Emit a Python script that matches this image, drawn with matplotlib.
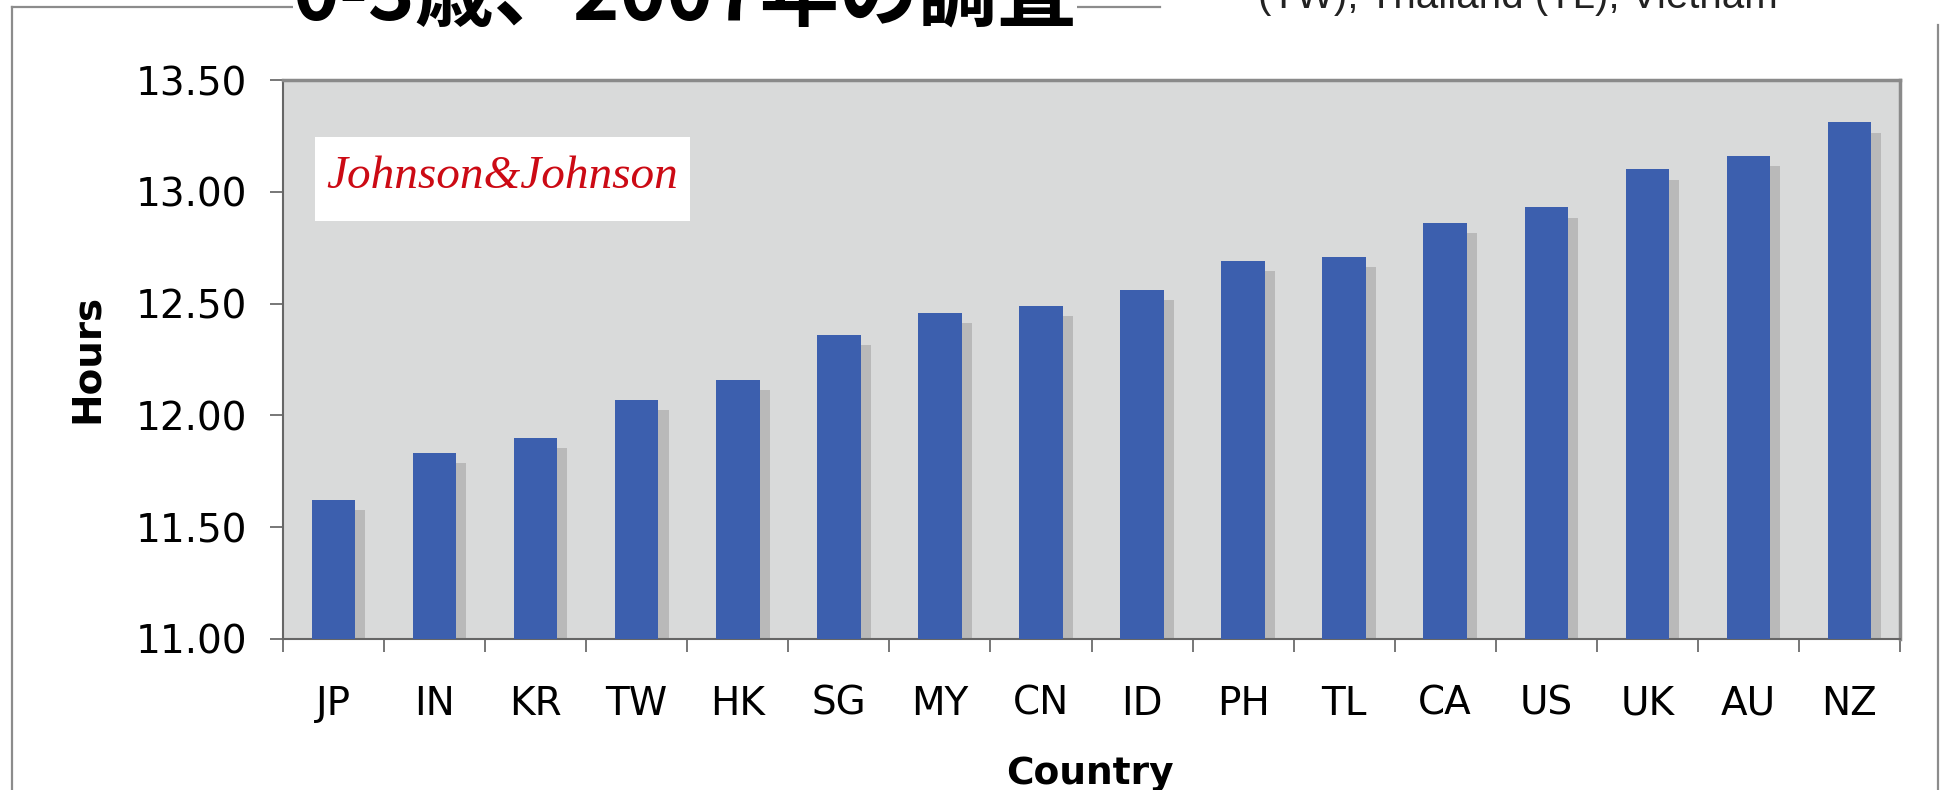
import numpy as np
import matplotlib.pyplot as plt
from matplotlib.patches import Rectangle
from matplotlib.lines import Line2D

countries = ["JP", "IN", "KR", "TW", "HK", "SG", "MY", "CN",
             "ID", "PH", "TL", "CA", "US", "UK", "AU", "NZ"]
hours = [11.62, 11.83, 11.90, 12.07, 12.16, 12.36, 12.46, 12.49,
         12.56, 12.69, 12.71, 12.86, 12.93, 13.10, 13.16, 13.31]
yticks = [11.0, 11.5, 12.0, 12.5, 13.0, 13.5]

W, H = 1944, 790


def fx(px):
    return px / W


def fy(py):
    # pixel measured from top -> figure fraction
    return (H - py) / H


def main():
    fig = plt.figure(figsize=(W / 100, H / 100), dpi=100)
    fig.patch.set_facecolor("white")

    # outer chart frame (partly cut)
    frame_kw = dict(transform=fig.transFigure, color="#8c8c8c", lw=1.6)
    fig.add_artist(Line2D([fx(12), fx(12)], [fy(7), fy(790)], **frame_kw))
    fig.add_artist(Line2D([fx(12), fx(1160)], [fy(7), fy(7)], **frame_kw))
    fig.add_artist(Line2D([fx(1938), fx(1938)], [fy(25), fy(790)], **frame_kw))

    ax = fig.add_axes([fx(283), fy(639), fx(1900) - fx(283), fy(80) - fy(639)])
    ax.set_facecolor("#D9DADA")

    x = np.arange(len(countries))
    hrs = np.array(hours)
    base = 11.0
    # drop shadow behind each bar
    ax.bar(x + 0.1, hrs - 0.045 - base, width=0.43, bottom=base,
           color="#B9B9B9", zorder=2)
    ax.bar(x, hrs - base, width=0.43, bottom=base, color="#3C5FAE", zorder=3)

    ax.set_xlim(-0.5, len(countries) - 0.5)
    ax.set_ylim(11.0, 13.5)
    ax.set_yticks(yticks)
    ax.set_yticklabels(["%.2f" % v for v in yticks])
    ax.set_xticks(x)
    ax.set_xticklabels(countries)
    ax.set_xticks(np.arange(-0.5, len(countries)), minor=True)
    ax.tick_params(axis="x", which="major", length=0, pad=33, labelsize=28)
    ax.tick_params(axis="x", which="minor", length=9.4, width=1.4,
                   color="#777777", direction="out")
    ax.tick_params(axis="y", length=9.4, width=1.4, color="#777777",
                   direction="out", pad=16.5, labelsize=28)

    for side in ["left", "bottom"]:
        ax.spines[side].set_color("#666666")
        ax.spines[side].set_linewidth(1.5)
    for side in ["top", "right"]:
        ax.spines[side].set_color("#8a8a8a")
        ax.spines[side].set_linewidth(2.5)

    fig.text(fx(87), fy(358), "Hours", rotation=90, ha="center", va="center",
             fontsize=28, fontweight="bold")
    fig.text(fx(1090), fy(784), "Country", ha="center", va="baseline",
             fontsize=27, fontweight="bold")

    # logo box inside the plot area
    fig.add_artist(Rectangle((fx(315), fy(221)), fx(690) - fx(315),
                             fy(137) - fy(221), transform=fig.transFigure,
                             facecolor="white", edgecolor="none", zorder=5))
    fig.text(fx(502), fy(177), "Johnson&Johnson", ha="center", va="center",
             fontsize=34, color="#CC0A14", family="Liberation Serif",
             style="italic", zorder=6)

    # cut-off slide texts at the top
    fig.text(fx(293), fy(20), "0-3歳、2007年の調査", ha="left", va="baseline",
             fontsize=57, fontweight="bold",
             family=["Noto Sans CJK JP", "DejaVu Sans"], color="black",
             bbox=dict(facecolor="white", edgecolor="none", pad=0))
    fig.text(fx(1258), fy(8), "(TW), Thailand (TL), Vietnam", ha="left",
             va="baseline", fontsize=29, family="Liberation Sans",
             color="#222222")

    plt.savefig("out.png", dpi=100)


if __name__ == "__main__":
    main()
